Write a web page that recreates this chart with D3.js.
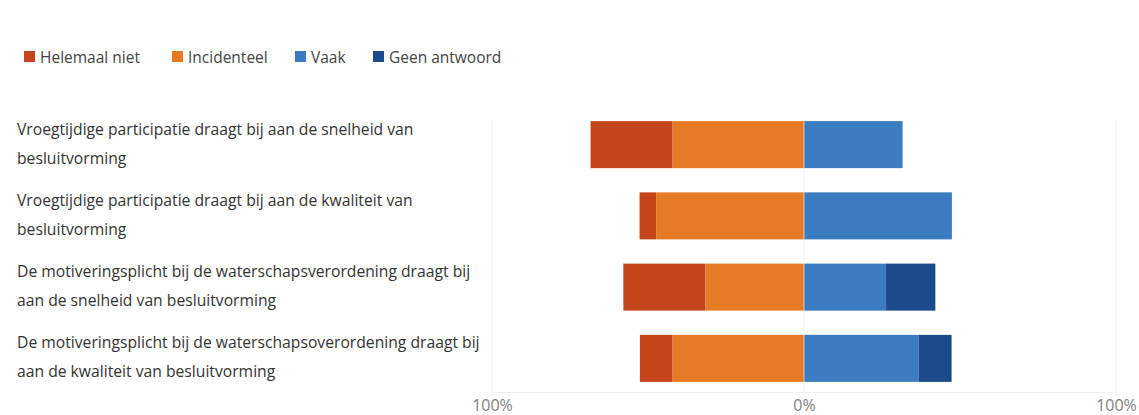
<!DOCTYPE html>
<html>
<head>
<meta charset="utf-8">
<script src="https://cdn.jsdelivr.net/npm/d3@7"></script>
<style>
  html, body { margin: 0; padding: 0; background: #fff; }
  svg { display: block; font-family: "Open Sans", "Noto Sans", sans-serif; }
</style>
</head>
<body>
<svg id="chart" width="1139" height="415"></svg>
<script>
// ----- DATA ------------------------------------------------
var categories = [
    'Vroegtijdige participatie draagt bij aan de snelheid van besluitvorming',
    'Vroegtijdige participatie draagt bij aan de kwaliteit van besluitvorming',
    'De motiveringsplicht bij de waterschapsverordening draagt bij aan de snelheid van besluitvorming',
    'De motiveringsplicht bij de waterschapsoverordening draagt bij aan de kwaliteit van besluitvorming'
];
var seriesNames = ['Helemaal niet', 'Incidenteel', 'Vaak', 'Geen antwoord'];
// percentages (negative side: Helemaal niet, Incidenteel; positive side: Vaak, Geen antwoord)
var helemaalNiet = [26.3, 5.3, 26.3, 10.5];
var incidenteel  = [42.1, 47.4, 31.6, 42.1];
var vaak         = [31.6, 47.4, 26.3, 36.8];
var geenAntwoord = [0, 0, 15.8, 10.5];
var tickValues = [-100, 0, 100];
var tickLabels = ['100%', '0%', '100%'];

var COLORS = ['#c4451c', '#e67a25', '#3b7cc0', '#1c4a8a'];

// ----- SETUP -----------------------------------------------
var svg = d3.select('#chart');

var x = d3.scaleLinear().domain([-100, 100]).range([492, 1116]);
var y = d3.scaleBand().domain(categories).range([109, 394])
    .paddingInner(0.34).paddingOuter(0.17);

// build segments
var segments = [];
categories.forEach(function (cat, i) {
    var left = -(helemaalNiet[i] + incidenteel[i]);
    segments.push({ cat: cat, s: 0, x0: left, x1: left + helemaalNiet[i] });
    segments.push({ cat: cat, s: 1, x0: -incidenteel[i], x1: 0 });
    segments.push({ cat: cat, s: 2, x0: 0, x1: vaak[i] });
    segments.push({ cat: cat, s: 3, x0: vaak[i], x1: vaak[i] + geenAntwoord[i] });
});

// ----- GRID ------------------------------------------------
svg.append('g').selectAll('line')
    .data(tickValues).enter()
    .append('line')
        .attr('x1', function (d) { return x(d); })
        .attr('x2', function (d) { return x(d); })
        .attr('y1', 121)
        .attr('y2', 392)
        .attr('stroke', '#ececec')
        .attr('stroke-width', 1);

svg.append('line')
    .attr('x1', x(-100)).attr('x2', x(100))
    .attr('y1', 392.5).attr('y2', 392.5)
    .attr('stroke', '#f0f0f0');

// ----- BARS ------------------------------------------------
svg.append('g').selectAll('rect')
    .data(segments.filter(function (d) { return d.x1 > d.x0; })).enter()
    .append('rect')
        .attr('x', function (d) { return x(d.x0); })
        .attr('width', function (d) { return x(d.x1) - x(d.x0); })
        .attr('y', function (d) { return y(d.cat); })
        .attr('height', y.bandwidth())
        .attr('fill', function (d) { return COLORS[d.s]; });

// zero line over bars
svg.append('line')
    .attr('x1', x(0)).attr('x2', x(0))
    .attr('y1', 121).attr('y2', 392)
    .attr('stroke', '#ffffff').attr('stroke-opacity', 0.6).attr('stroke-width', 1);

// ----- AXIS ------------------------------------------------
var axis = d3.axisBottom(x)
    .tickValues(tickValues)
    .tickSize(0)
    .tickFormat(function (d, i) { return tickLabels[i]; });

var axisG = svg.append('g')
    .attr('transform', 'translate(0,397)')
    .call(axis);
axisG.select('.domain').remove();
axisG.selectAll('text')
    .attr('font-size', 16)
    .attr('fill', '#808080')
    .attr('font-family', '"Open Sans", sans-serif');

// ----- CATEGORY LABELS -------------------------------------
var labels = svg.append('g').selectAll('text')
    .data(categories).enter()
    .append('text')
        .attr('x', 17)
        .attr('font-size', 15.7)
        .attr('fill', '#333');

labels.each(function (d) {
    var t = d3.select(this);
    var words = d.split(' ');
    var lines = [words[0]];
    var probe = t.append('tspan');
    for (var i = 1; i < words.length; i++) {
        var test = lines[lines.length - 1] + ' ' + words[i];
        probe.text(test);
        if (probe.node().getComputedTextLength() <= 476) {
            lines[lines.length - 1] = test;
        } else {
            lines.push(words[i]);
        }
    }
    probe.remove();
    var cy = y(d) + y.bandwidth() / 2;
    t.selectAll('tspan')
        .data(lines).enter()
        .append('tspan')
            .attr('x', 17)
            .attr('y', function (l, j) { return cy - 16 + j * 29; })
            .attr('dominant-baseline', 'central')
            .text(function (l) { return l; });
});

// ----- LEGEND ----------------------------------------------
var legendX = [24, 172, 295, 373];
var legend = svg.append('g').selectAll('g')
    .data(seriesNames).enter()
    .append('g')
        .attr('transform', function (d, i) { return 'translate(' + legendX[i] + ',57)'; });

legend.append('rect')
    .attr('x', 0).attr('y', -6)
    .attr('width', 11).attr('height', 11)
    .attr('fill', function (d, i) { return COLORS[i]; });

legend.append('text')
    .attr('x', 16)
    .attr('y', 0)
    .attr('dominant-baseline', 'central')
    .attr('font-size', 15.5)
    .attr('fill', '#444')
    .text(function (d) { return d; });
</script>
</body>
</html>
